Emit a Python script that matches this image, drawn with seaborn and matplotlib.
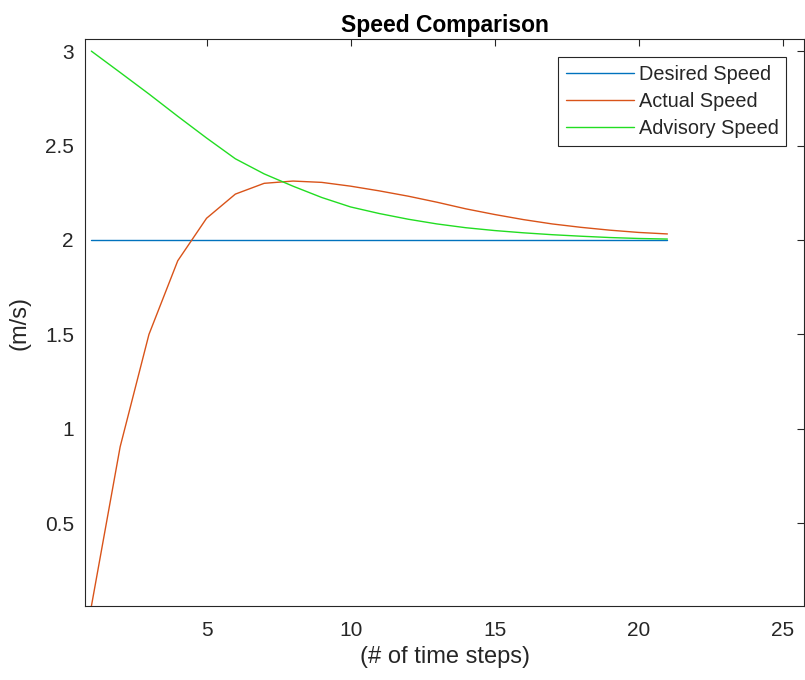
import numpy as np
import pandas as pd
import matplotlib
matplotlib.use("Agg")
import matplotlib.pyplot as plt
import seaborn as sns

steps = list(range(1, 22))
desired_speed = [2.0] * 21
actual_speed = [0.06, 0.905, 1.50, 1.89, 2.115, 2.243, 2.30, 2.312, 2.305, 2.285,
                2.26, 2.232, 2.20, 2.165, 2.135, 2.108, 2.085, 2.067, 2.052, 2.04, 2.032]
advisory_speed = [3.0, 2.887, 2.773, 2.655, 2.54, 2.43, 2.35, 2.285, 2.225, 2.175,
                  2.14, 2.11, 2.085, 2.065, 2.05, 2.038, 2.028, 2.02, 2.013, 2.008, 2.005]
series_names = ["Desired Speed", "Actual Speed", "Advisory Speed"]
colors = ["#0072BD", "#D95319", "#22DD22"]
x_ticks = [5, 10, 15, 20, 25]
y_ticks = [0.5, 1, 1.5, 2, 2.5, 3]

df = pd.concat([
    pd.DataFrame({"step": steps, "speed": vals, "series": name})
    for name, vals in zip(series_names, [desired_speed, actual_speed, advisory_speed])
])

sns.set_style("white")
plt.rcParams["font.family"] = ["Liberation Sans", "DejaVu Sans"]

fig = plt.figure(figsize=(8.05, 6.8), dpi=100)
ax = fig.add_axes([0.1056, 0.1088, 0.8934, 0.8338])
sns.lineplot(data=df, x="step", y="speed", hue="series", hue_order=series_names,
             palette=colors, linewidth=1.0, ax=ax, legend=True)

ax.set_xlim(0.78, 25.75)
ax.set_ylim(0.062, 3.064)
ax.set_xticks(x_ticks)
ax.set_yticks(y_ticks)
ax.set_xticklabels([str(t) for t in x_ticks])
ax.set_yticklabels([f"{t:g}" for t in y_ticks])
ax.tick_params(direction="in", length=5, width=0.8, top=True, right=True,
               labelsize=15, colors="#262626")
ax.tick_params(axis="x", pad=11)
ax.tick_params(axis="y", pad=8)
for s in ax.spines.values():
    s.set_color("#262626")
    s.set_linewidth(0.8)
    s.set_visible(True)

ax.set_xlabel("(# of time steps)", fontsize=17, color="#262626", labelpad=4)
ax.set_ylabel("(m/s)", fontsize=17, color="#262626", labelpad=10)
ax.set_title("Speed Comparison", fontsize=16.5, fontweight="bold", color="black", pad=5)

leg = ax.legend(loc="upper right", fontsize=14.3, frameon=True, fancybox=False,
                framealpha=1, edgecolor="#262626", handlelength=3.4,
                borderaxespad=0.9, labelspacing=0.4, borderpad=0.4, handletextpad=0.25)
leg.get_frame().set_linewidth(0.8)

fig.savefig("out.png", dpi=100)
